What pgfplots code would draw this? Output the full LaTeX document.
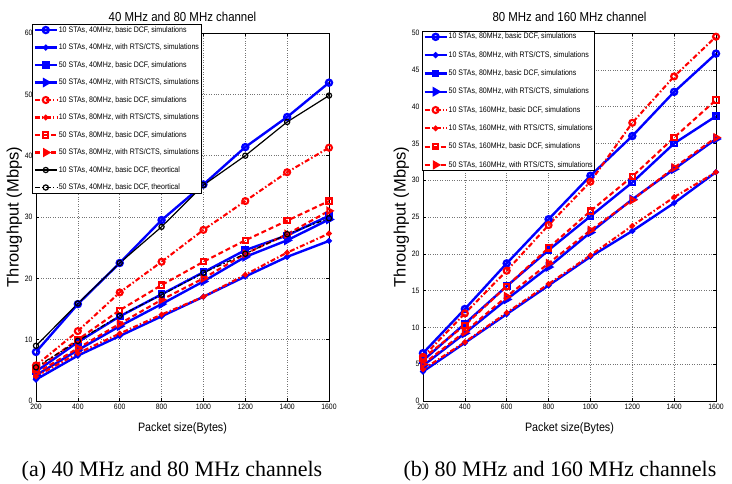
\documentclass[border=0pt]{standalone}
\usepackage{fontspec}
\setmainfont{Liberation Serif}
\newfontfamily\hv[FakeStretch=0.88]{Liberation Sans}
\newfontfamily\hvw{Liberation Sans}
\usepackage{pgfplots}
\usepackage{pgfplotstable}
\pgfplotsset{compat=1.18}

% x, blue (10 basic, 10 rts, 50 basic, 50 rts), red (same), black theory (10, 50)
\pgfplotstableread{
x    bA   bB   bC   bD   rA   rB   rC   rD   kA   kB
200  8.0  3.5  4.8  4.2  5.8  4.0  5.2  4.5  9.0  5.5
400  15.8 7.4  9.6  8.3  11.4 7.8  10.0 8.6  15.9 9.8
600  22.5 10.6 13.8 12.2 17.7 11.0 14.8 12.6 22.5 13.9
800  29.5 13.8 17.4 15.8 22.7 14.1 18.9 16.5 28.4 17.3
1000 35.3 17.0 21.0 19.5 27.9 17.0 22.7 20.0 35.2 20.9
1200 41.4 20.3 24.6 23.5 32.6 20.6 26.2 24.0 40.0 24.0
1400 46.3 23.5 27.0 26.2 37.3 24.2 29.4 27.2 45.5 27.2
1600 51.9 26.1 30.2 29.6 41.3 27.3 32.6 31.0 49.8 29.8
}\leftdata

\pgfplotstableread{
x    bA   bB   bC   bD   rA   rB   rC   rD
200  6.5  4.0  5.5  4.8  6.0  4.3  5.8  5.0
400  12.5 7.9  10.5 9.2  11.9 8.0  10.3 9.4
600  18.7 11.8 15.6 13.8 17.7 12.0 15.6 14.2
800  24.7 15.7 20.5 18.2 23.9 15.9 20.8 18.7
1000 30.6 19.6 25.1 22.9 29.8 19.8 25.8 23.2
1200 36.0 23.1 29.7 27.4 37.8 23.8 30.5 27.3
1400 42.0 26.9 35.0 31.5 44.1 27.7 35.8 31.7
1600 47.2 31.1 38.7 35.6 49.5 31.1 40.9 35.8
}\rightdata

\pgfplotsset{
  panel/.style={
    scale only axis, width=293pt, height=368pt,
    xmin=200, xmax=1600, xtick={200,400,...,1600},
    grid=major, grid style={dotted, black!55, line width=0.5pt},
    axis line style={black, line width=0.7pt},
    tick align=inside, tick style={black, line width=0.5pt},
    major tick length=3pt,
    ticklabel style={font=\hv\fontsize{7.8}{9}\selectfont},
    /pgf/number format/assume math mode=true,
    /pgf/number format/1000 sep={},
    xlabel={Packet size(Bytes)}, ylabel={Throughput (Mbps)},
    xlabel style={font=\hv\fontsize{12.2}{14}\selectfont, yshift=-6pt},
    ylabel style={font=\hvw\fontsize{16.5}{18}\selectfont, yshift=-4pt},
    title style={font=\hv\fontsize{13}{15}\selectfont, yshift=2pt},
    legend cell align=left,
    legend style={font=\hv\fontsize{8}{9}\selectfont, draw=black, line width=0.8pt,
      fill=white, inner sep=1.2pt, row sep=8.6pt,
      nodes={inner sep=0.8pt, line width=0.5pt}},
    legend image code/.code={\draw[mark repeat=2, mark phase=2, #1]
      plot coordinates {(0pt,0pt) (11pt,0pt) (22pt,0pt)};},
  },
  bl/.style={blue, line width=2.4pt, mark options={solid}},
  rd/.style={red, line width=2.1pt, mark options={solid}},
  dd/.style={dash pattern=on 5pt off 2.2pt on 1.5pt off 2.2pt},
  ds/.style={dash pattern=on 5pt off 3pt},
  mo/.style={mark=o, mark size=3pt},
  md/.style={mark=*, mark size=1.6pt},
  ms/.style={mark=square, mark size=2.6pt},
  mt/.style={mark=triangle, mark size=3.4pt, mark options={solid, rotate=-90}},
}

\begin{document}
\begin{tikzpicture}
\useasboundingbox (0,0) rectangle (732pt,483pt);

\begin{axis}[panel, at={(36pt,82pt)}, anchor=south west,
  ymin=0, ymax=60, ytick={0,10,...,60},
  title={40 MHz and 80 MHz channel},
  legend style={at={(-0.0137,1.0245)}, anchor=north west}]
\addplot[bl, mo] table[x=x, y=bA] {\leftdata};
\addlegendentry{10 STAs, 40MHz, basic DCF, simulations}
\addplot[bl, md] table[x=x, y=bB] {\leftdata};
\addlegendentry{10 STAs, 40MHz, with RTS/CTS, simulations}
\addplot[bl, ms] table[x=x, y=bC] {\leftdata};
\addlegendentry{50 STAs, 40MHz, basic DCF, simulations}
\addplot[bl, mt] table[x=x, y=bD] {\leftdata};
\addlegendentry{50 STAs, 40MHz, with RTS/CTS, simulations}
\addplot[rd, dd, mo] table[x=x, y=rA] {\leftdata};
\addlegendentry{10 STAs, 80MHz, basic DCF, simulations}
\addplot[rd, dd, md] table[x=x, y=rB] {\leftdata};
\addlegendentry{10 STAs, 80MHz, with RTS/CTS, simulations}
\addplot[rd, ds, ms] table[x=x, y=rC] {\leftdata};
\addlegendentry{50 STAs, 80MHz, basic DCF, simulations}
\addplot[rd, ds, mt] table[x=x, y=rD] {\leftdata};
\addlegendentry{50 STAs, 80MHz, with RTS/CTS, simulations}
\addplot[black, line width=1.2pt, mark=o, mark size=2.6pt] table[x=x, y=kA] {\leftdata};
\addlegendentry{10 STAs, 40MHz, basic DCF, theortical}
\addplot[black, line width=1.2pt, dd, mark=o, mark size=2.6pt, mark options={solid}] table[x=x, y=kB] {\leftdata};
\addlegendentry{50 STAs, 40MHz, basic DCF, theortical}
\end{axis}

\begin{axis}[panel, at={(423pt,82pt)}, anchor=south west,
  ymin=0, ymax=50, ytick={0,5,...,50},
  title={80 MHz and 160 MHz channel},
  legend style={at={(-0.004,1.006)}, anchor=north west, row sep=9.4pt}]
\addplot[bl, mo] table[x=x, y=bA] {\rightdata};
\addlegendentry{10 STAs, 80MHz, basic DCF, simulations}
\addplot[bl, md] table[x=x, y=bB] {\rightdata};
\addlegendentry{10 STAs, 80MHz, with RTS/CTS, simulations}
\addplot[bl, ms] table[x=x, y=bC] {\rightdata};
\addlegendentry{50 STAs, 80MHz, basic DCF, simulations}
\addplot[bl, mt] table[x=x, y=bD] {\rightdata};
\addlegendentry{50 STAs, 80MHz, with RTS/CTS, simulations}
\addplot[rd, dd, mo] table[x=x, y=rA] {\rightdata};
\addlegendentry{10 STAs, 160MHz, basic DCF, simulations}
\addplot[rd, dd, md] table[x=x, y=rB] {\rightdata};
\addlegendentry{10 STAs, 160MHz, with RTS/CTS, simulations}
\addplot[rd, ds, ms] table[x=x, y=rC] {\rightdata};
\addlegendentry{50 STAs, 160MHz, basic DCF, simulations}
\addplot[rd, ds, mt] table[x=x, y=rD] {\rightdata};
\addlegendentry{50 STAs, 160MHz, with RTS/CTS, simulations}
\end{axis}

\node[font=\fontsize{22}{24}\selectfont] at (172pt,11.5pt) {(a) 40 MHz and 80 MHz channels};
\node[font=\fontsize{22}{24}\selectfont] at (560pt,11.5pt) {(b) 80 MHz and 160 MHz channels};
\end{tikzpicture}
\end{document}
